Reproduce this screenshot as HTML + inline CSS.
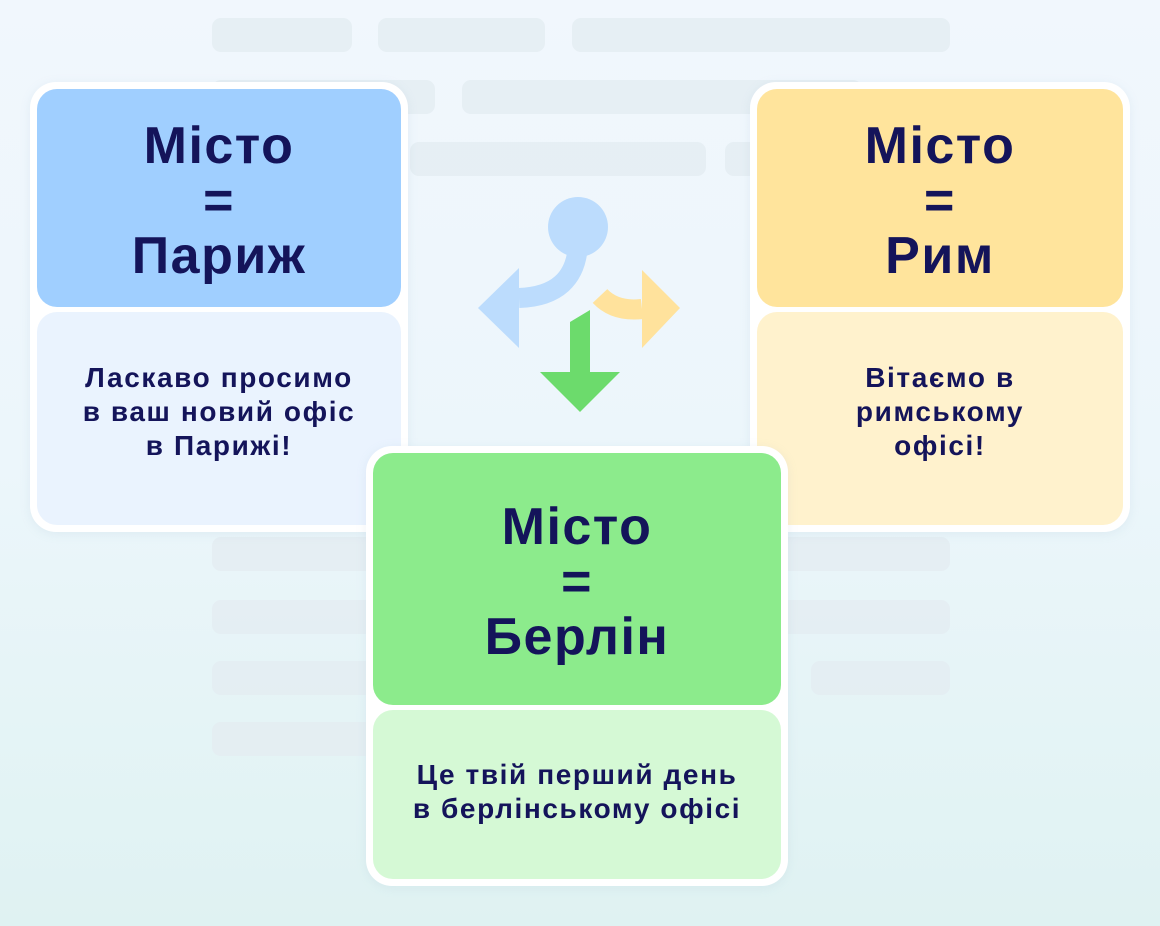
<!DOCTYPE html>
<html><head><meta charset="utf-8"><style>
*{margin:0;padding:0;box-sizing:border-box}
body{width:1160px;height:926px;overflow:hidden;position:relative;background:linear-gradient(180deg,#f1f7fd 0%,#ecf6fb 50%,#dff2f2 100%);font-family:"Liberation Sans","DejaVu Sans",sans-serif;color:#14145a}
.bar{position:absolute;height:34px;border-radius:9px;background:#e4ecf1;opacity:.8}
.card{position:absolute;background:#fff;border-radius:26px;padding:7px;box-shadow:0 2px 10px rgba(150,180,200,.15)}
.hd{border-radius:20px;display:flex;flex-direction:column;align-items:center;justify-content:center;font-weight:bold;font-size:52px;line-height:55px;text-align:center;letter-spacing:1.5px;padding-top:6px}
.bd{margin-top:5px;border-radius:20px;display:flex;align-items:center;justify-content:center;text-align:center;font-weight:bold;font-size:28px;line-height:34px;letter-spacing:1.6px;padding-bottom:14px}
</style></head><body>
<div class="bar" style="left:212px;top:18px;width:140px"></div>
<div class="bar" style="left:378px;top:18px;width:167px"></div>
<div class="bar" style="left:572px;top:18px;width:378px"></div>
<div class="bar" style="left:212px;top:80px;width:223px"></div>
<div class="bar" style="left:462px;top:80px;width:400px"></div>
<div class="bar" style="left:410px;top:142px;width:296px"></div>
<div class="bar" style="left:725px;top:142px;width:100px"></div>
<div class="bar" style="left:212px;top:537px;width:738px"></div>
<div class="bar" style="left:212px;top:600px;width:738px"></div>
<div class="bar" style="left:212px;top:661px;width:300px"></div>
<div class="bar" style="left:811px;top:661px;width:139px"></div>
<div class="bar" style="left:212px;top:722px;width:300px"></div>

<svg style="position:absolute;left:0;top:0" width="1160" height="926">
<circle cx="578" cy="227" r="30" fill="#bcdcfd"/>
<path d="M578 245 Q575 296 519 298" stroke="#bcdcfd" stroke-width="20" fill="none"/>
<polygon points="478,308 519,268 519,348" fill="#bcdcfd"/>
<path d="M600 296 Q615 312 642 309" stroke="#ffe29c" stroke-width="20" fill="none"/>
<polygon points="680,308 642,270 642,348" fill="#ffe29c"/>
<polygon points="570,322 590,310 590,372 620,372 580,412 540,372 570,372" fill="#6cdb6c"/>
</svg>

<div class="card" style="left:30px;top:82px;width:378px;height:450px">
<div class="hd" style="background:#a0cfff;height:218px">Місто<br>=<br>Париж</div>
<div class="bd" style="background:#eaf3fe;height:213px">Ласкаво просимо<br>в ваш новий офіс<br>в Парижі!</div>
</div>
<div class="card" style="left:750px;top:82px;width:380px;height:450px">
<div class="hd" style="background:#ffe49c;height:218px">Місто<br>=<br>Рим</div>
<div class="bd" style="background:#fff2cd;height:213px">Вітаємо в<br>римському<br>офісі!</div>
</div>
<div class="card" style="left:366px;top:446px;width:422px;height:440px">
<div class="hd" style="background:#8ceb8c;height:252px">Місто<br>=<br>Берлін</div>
<div class="bd" style="background:#d5f9d5;height:169px;padding-bottom:6px">Це твій перший день<br>в берлінському офісі</div>
</div>
</body></html>
